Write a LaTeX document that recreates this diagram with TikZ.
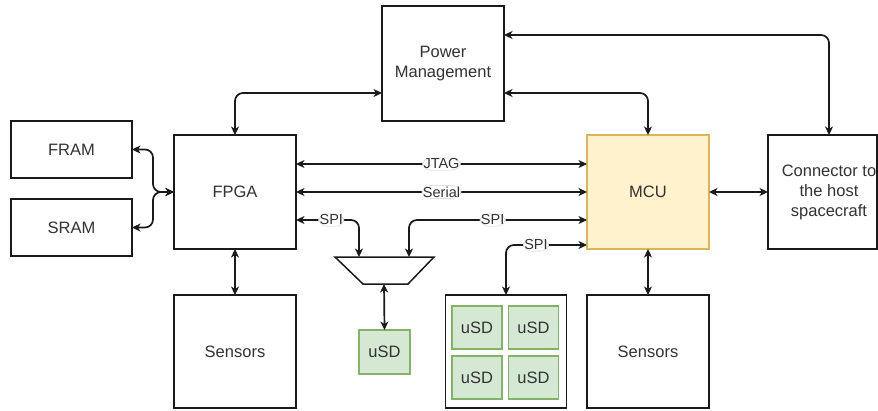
\documentclass[tikz,border=0pt]{standalone}
\usepackage{fontspec}
\setmainfont{Liberation Sans}
\usetikzlibrary{arrows.meta}
\definecolor{mcufill}{HTML}{FFF2CC}
\definecolor{mculine}{HTML}{D6B656}
\definecolor{sdfill}{HTML}{D5E8D4}
\definecolor{sdline}{HTML}{82B366}
\definecolor{ink}{HTML}{1A1A1A}
\definecolor{txt}{HTML}{333333}
\begin{document}
\begin{tikzpicture}[x=1pt,y=-1pt,
  blk/.style={draw=ink, line width=1.5pt, fill=white, inner sep=0pt, outer sep=0pt,
    text=txt, font=\fontsize{16.5}{20}\selectfont, align=center},
  sd/.style={draw=sdline, fill=sdfill, line width=1.4pt, minimum width=50pt,
    minimum height=43pt, inner sep=0pt, outer sep=0pt, text=txt, font=\fontsize{16.5}{20}\selectfont},
  tip/.tip={Stealth[length=8.5pt,width=8pt,inset=2.5pt]},
  link/.style={draw=ink, line width=1.7pt, rounded corners=8pt, tip-tip},
  lbl/.style={fill=white, draw=gray!35, line width=0.4pt, inner sep=1pt, text=txt,
    font=\fontsize{14.5}{16}\selectfont}
]
\useasboundingbox[fill=white] (0,0) rectangle (878,410);

% boxes
\node[blk, minimum width=121pt, minimum height=57pt] (fram) at (71.5,149.5) {FRAM};
\node[blk, minimum width=121pt, minimum height=57pt] (sram) at (71.5,227.5) {SRAM};
\node[blk, minimum width=122pt, minimum height=114pt] (fpga) at (235,192) {FPGA};
\node[blk, minimum width=122pt, minimum height=115pt] (pm) at (443,63.5) {Power\\Management};
\node[blk, fill=mcufill, draw=mculine, minimum width=122pt, minimum height=114pt] (mcu) at (648,192) {MCU};
\draw[ink, line width=1.5pt, fill=white] (768,135) rectangle (877,249);
\node[blk, draw=none, fill=none, minimum width=122pt, minimum height=114pt] (conn) at (829,192) {Connector to\\the host\\spacecraft};
\node[blk, minimum width=122pt, minimum height=113pt] (sensL) at (235,351.5) {Sensors};
\node[blk, minimum width=122pt, minimum height=113pt] (sensR) at (648,351.5) {Sensors};

% mux
\draw[ink, line width=1.5pt, fill=white] (335,257) -- (434,257) -- (408,284) -- (363,284) -- cycle;
\coordinate (muxL) at (359,257);
\coordinate (muxR) at (409,257);
\coordinate (muxB) at (384,284);
\node[sd, minimum width=51pt, minimum height=44pt] (usd) at (384.5,352) {uSD};

% uSD group
\node[blk, minimum width=121pt, minimum height=113pt] (grp) at (506,351.5) {};
\node[sd] (sd1) at (477,327.5) {uSD};
\node[sd] (sd2) at (533.5,327.5) {uSD};
\node[sd] (sd3) at (477,377.5) {uSD};
\node[sd] (sd4) at (533.5,377.5) {uSD};

% connectors
\coordinate (fork) at (153,192);
\draw[link] (fram.east) -| (fork) -- (fpga.west);
\draw[link] (sram.east) -| (fork) -- (fpga.west);

\draw[link] ([yshift=-29.5pt]pm.west) -| (fpga.north);
\draw[link] ([yshift=-29.5pt]pm.east) -| (mcu.north);
\draw[link] ([yshift=28.5pt]pm.east) -| (conn.north);

\draw[link] ([yshift=28pt]fpga.east) -- node[lbl] {JTAG} ([yshift=28pt]mcu.west);
\draw[link] (fpga.east) -- node[lbl] {Serial} (mcu.west);
\draw[link] ([yshift=-28pt]fpga.east) -| node[lbl, pos=0.28] {SPI} (muxL);
\draw[link] (muxR) |- node[lbl, pos=0.735] {SPI} ([yshift=-28pt]mcu.west);
\draw[link] (grp.north) |- node[lbl, pos=0.685] {SPI} ([yshift=-53pt]mcu.west);

\draw[link] (muxB) -- (usd.north);
\draw[link] (fpga.south) -- (sensL.north);
\draw[link] (mcu.south) -- (sensR.north);
\draw[link] (mcu.east) -- (conn.west);
\end{tikzpicture}
\end{document}
